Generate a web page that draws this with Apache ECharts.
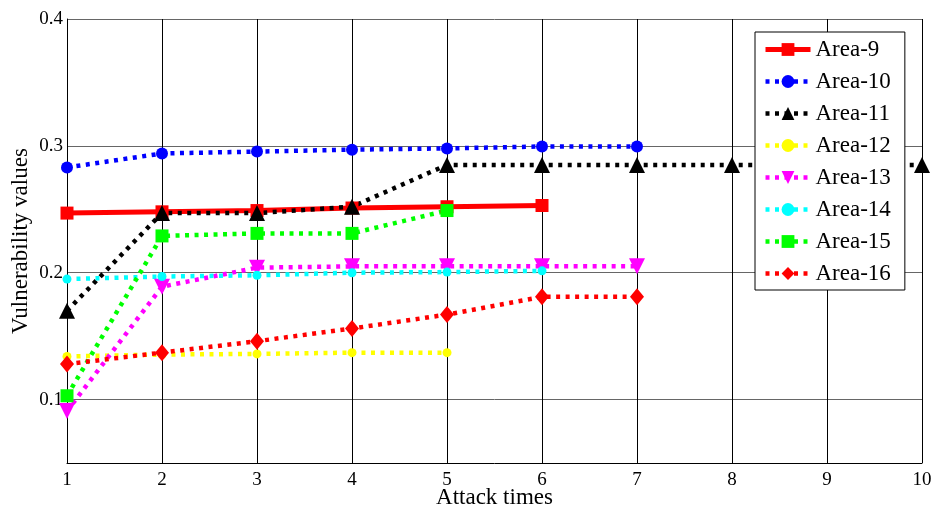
<!DOCTYPE html>
<html>
<head>
<meta charset="utf-8">
<script src="https://cdn.jsdelivr.net/npm/echarts@6/dist/echarts.min.js"></script>
<style>
  html, body { margin: 0; padding: 0; background: #fff; }
</style>
</head>
<body>
<div id="chart" style="width: 936px;height:508px;"></div>
<script>
// attack times on x, vulnerability values on y
const attackTimes = [1, 2, 3, 4, 5, 6, 7, 8, 9, 10]
const yTickLabels = [0.1, 0.2, 0.3, 0.4]
const area9 = [0.247, 0.248, 0.249, 0.251, 0.252, 0.253]
const area10 = [0.283, 0.294, 0.2955, 0.297, 0.298, 0.2995, 0.2995]
const area11 = [0.170, 0.247, 0.247, 0.252, 0.285, 0.285, 0.285, 0.285, 0.285, 0.285]
const area12 = [0.134, 0.1355, 0.136, 0.137, 0.137]
const area13 = [0.091, 0.189, 0.204, 0.205, 0.205, 0.205, 0.205]
const area14 = [0.195, 0.197, 0.198, 0.200, 0.2005, 0.2015]
const area15 = [0.103, 0.229, 0.231, 0.231, 0.249]
const area16 = [0.128, 0.137, 0.146, 0.156, 0.167, 0.181, 0.181]

const font = "'Liberation Serif', 'Times New Roman', serif"
const dots = [4, 5.5]

function pts (vals) {
  return vals.map(function (v, i) { return [attackTimes[i], v] })
}

function line (name, vals, color, symbol, size, dotted, rotate) {
  return {
    name: name,
    type: 'line',
    data: pts(vals),
    symbol: symbol,
    symbolSize: size,
    symbolRotate: rotate || 0,
    showAllSymbol: true,
    itemStyle: { color: color },
    lineStyle: {
      color: color,
      width: dotted ? 4.5 : 5,
      type: dotted ? dots : 'solid'
    },
    emphasis: { disabled: true }
  }
}

const seriesList = [
  line('Area-9', area9, '#ff0000', 'rect', 13, false),
  line('Area-10', area10, '#0000ff', 'circle', 12, true),
  line('Area-11', area11, '#000000', 'triangle', 16, true),
  line('Area-12', area12, '#ffff00', 'circle', 9, true),
  line('Area-13', area13, '#ff00ff', 'triangle', 16, true, 180),
  line('Area-14', area14, '#00ffff', 'circle', 9, true),
  line('Area-15', area15, '#00ff00', 'rect', 13, true),
  line('Area-16', area16, '#ff0000', 'diamond', [14, 17], true)
]

let myChart = echarts.init(document.getElementById('chart'))
let option = {
  animation: false,
  textStyle: { fontFamily: font },
  grid: { left: 67, right: 14, top: 19, bottom: 45, containLabel: false, outerBoundsMode: 'none' },
  legend: {
    orient: 'vertical',
    left: 755,
    top: 32,
    padding: [6, 14, 5, 8],
    itemWidth: 45,
    itemHeight: 16,
    itemGap: 9,
    backgroundColor: '#fff',
    borderColor: '#000',
    borderWidth: 1,
    textStyle: { fontFamily: font, fontSize: 23, color: '#000', lineHeight: 23 },
    data: seriesList.map(function (s) {
      return { name: s.name, lineStyle: { width: s.lineStyle.width, type: s.lineStyle.type } }
    })
  },
  xAxis: {
    type: 'value',
    min: 1,
    max: 10,
    interval: 1,
    name: 'Attack times',
    nameLocation: 'middle',
    nameGap: 23,
    nameMoveOverlap: false,
    nameTextStyle: { fontFamily: font, fontSize: 23, color: '#000' },
    axisLine: { lineStyle: { color: '#000', width: 1 } },
    axisTick: { show: false },
    axisLabel: { color: '#000', fontSize: 19, fontFamily: font, margin: 8 },
    splitLine: { show: true, lineStyle: { color: '#000', width: 1 } }
  },
  yAxis: {
    type: 'value',
    min: 0.05,
    max: 0.4,
    interval: 0.05,
    name: 'Vulnerability values',
    nameLocation: 'middle',
    nameGap: 35,
    nameMoveOverlap: false,
    nameTextStyle: { fontFamily: font, fontSize: 23, color: '#000' },
    axisLine: { show: true, lineStyle: { color: '#000', width: 1 } },
    axisTick: { show: false },
    axisLabel: {
      color: '#000',
      fontSize: 19,
      fontFamily: font,
      margin: 4,
      formatter: function (v) {
        const hit = yTickLabels.find(function (t) { return Math.abs(t - v) < 1e-6 })
        return hit !== undefined ? hit.toFixed(1) : ''
      }
    },
    splitLine: { show: true, lineStyle: { color: ['rgba(0,0,0,0)', '#666'], width: 1 } }
  },
  series: seriesList
}
myChart.setOption(option)
</script>
</body>
</html>
